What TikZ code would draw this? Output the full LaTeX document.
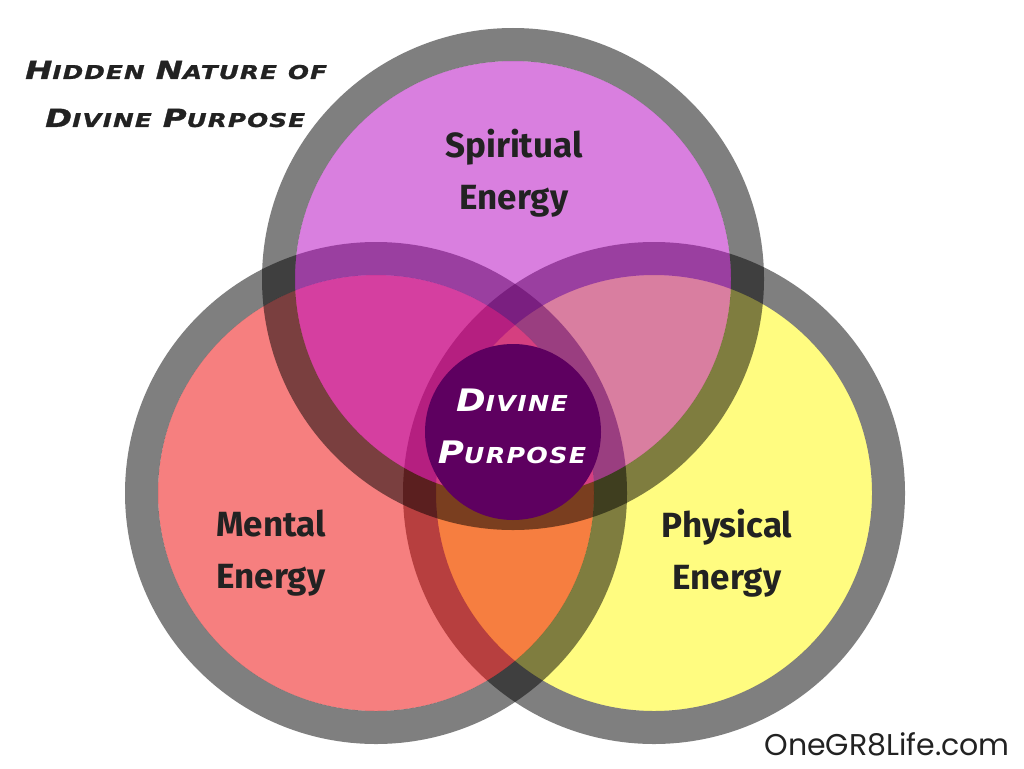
\documentclass[tikz,border=0pt]{standalone}
\usepackage{fontspec}
\setmainfont{Fira Sans}
\newfontfamily\markfont{DejaVu Sans}[FakeStretch=1.15, LetterSpace=6]
\newfontfamily\titlefont{DejaVu Sans}[FakeStretch=1.3, LetterSpace=6, FakeBold=1.2]
\newfontfamily\sitefont{Poppins}
\definecolor{yelfill}{RGB}{255,252,128}
\definecolor{redfill}{RGB}{239,1,1}
\definecolor{purfill}{RGB}{181,1,193}
\definecolor{corefill}{RGB}{94,0,96}
\definecolor{inktext}{RGB}{34,34,34}
\newcommand{\bigsc}[2]{{\fontsize{25}{25}\selectfont #1}{\fontsize{19}{19}\selectfont #2}}
\newcommand{\bigscw}[2]{{\fontsize{31}{31}\selectfont #1}{\fontsize{22}{22}\selectfont #2}}
\tikzset{
  ringline/.style={draw=black, draw opacity=0.5, line width=33pt},
  lbl/.style={font=\fontsize{35}{52}\selectfont\bfseries, text=inktext, align=center, inner sep=0pt},
  ttl/.style={font=\titlefont\bfseries\itshape, text=inktext, anchor=west, inner sep=0pt},
  core/.style={font=\markfont\bfseries\itshape, text=white, inner sep=0pt}
}
\begin{document}
\begin{tikzpicture}[x=1pt,y=-1pt]
\useasboundingbox (0,0) rectangle (1024,768);
\fill[white] (0,0) rectangle (1024,768);
% physical
\fill[yelfill] (654,493) circle[radius=218];
\draw[ringline] (654,493) circle[radius=234.5];
% mental
\fill[redfill, fill opacity=0.5] (376,493) circle[radius=218];
\draw[ringline] (376,493) circle[radius=234.5];
% spiritual
\fill[purfill, fill opacity=0.5] (513,279) circle[radius=218];
\draw[ringline] (513,279) circle[radius=234.5];
% core
\fill[corefill] (513,432) circle[radius=88];
% labels
\node[lbl] (spirit) at (514,173) {Spiritual\\Energy};
\node[lbl] (mental) at (271,553) {Mental\\Energy};
\node[lbl] (phys) at (727,553) {Physical\\Energy};
\node[core] (core1) at (512,400) {\bigscw{D}{IVINE}};
\node[core] (core2) at (512,452) {\bigscw{P}{URPOSE}};
\node[ttl] (title1) at (25,70) {\bigsc{H}{IDDEN}\hspace{11pt}\bigsc{N}{ATURE}\hspace{11pt}{\fontsize{19}{19}\selectfont OF}};
\node[ttl] (title2) at (45,118) {\bigsc{D}{IVINE}\hspace{11pt}\bigsc{P}{URPOSE}};
\node[font=\sitefont\fontsize{30}{30}\selectfont, text=inktext, anchor=east, inner sep=0pt] (site) at (1010,744) {OneGR8Life.com};
\end{tikzpicture}
\end{document}
